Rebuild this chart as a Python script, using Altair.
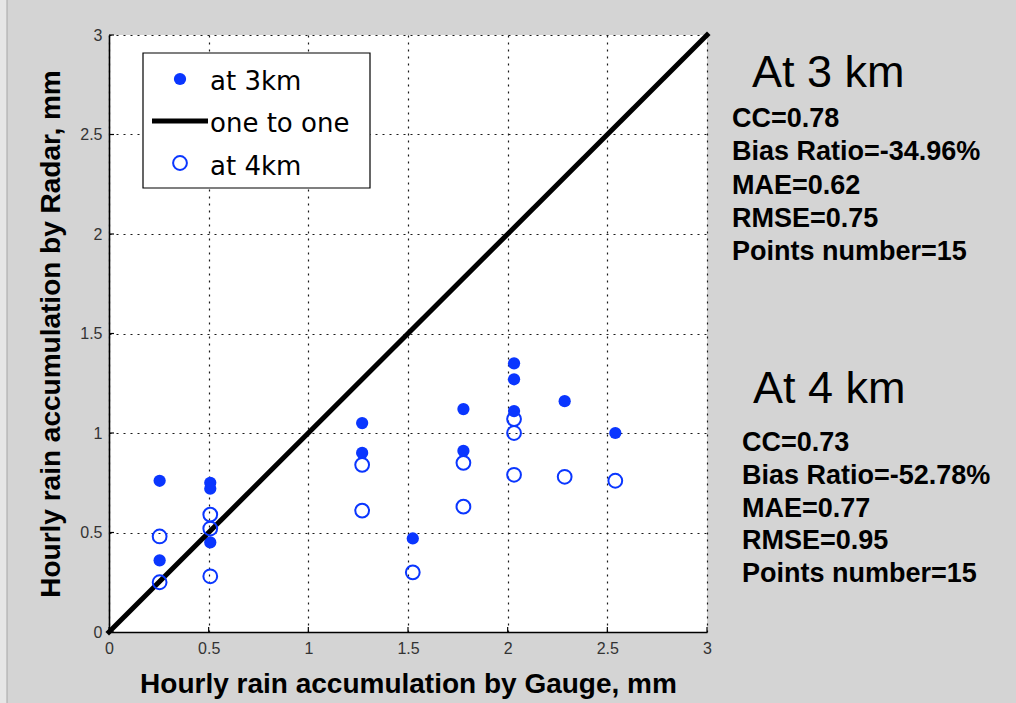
import altair as alt
import pandas as pd

# Gauge readings come in 0.01-inch steps (0.254 mm)
gauge_3km = [0.254, 0.254, 0.508, 0.508, 0.508, 1.27, 1.27, 1.524,
             1.778, 1.778, 2.032, 2.032, 2.032, 2.286, 2.54]
radar_3km = [0.76, 0.36, 0.75, 0.72, 0.45, 1.05, 0.90, 0.47,
             1.12, 0.91, 1.35, 1.27, 1.11, 1.16, 1.00]

gauge_4km = [0.254, 0.254, 0.508, 0.508, 0.508, 1.27, 1.27, 1.524,
             1.778, 1.778, 2.032, 2.032, 2.032, 2.286, 2.54]
radar_4km = [0.48, 0.25, 0.59, 0.52, 0.28, 0.84, 0.61, 0.30,
             0.85, 0.63, 1.07, 1.00, 0.79, 0.78, 0.76]

one_to_one = [0, 3]
tick_values = [0, 0.5, 1, 1.5, 2, 2.5, 3]

legend_labels = ["at 3km", "one to one", "at 4km"]

stats_3km_title = "At 3 km"
stats_3km = ["CC=0.78", "Bias Ratio=-34.96%", "MAE=0.62", "RMSE=0.75", "Points number=15"]
stats_4km_title = "At 4 km"
stats_4km = ["CC=0.73", "Bias Ratio=-52.78%", "MAE=0.77", "RMSE=0.95", "Points number=15"]

W, H = 598, 597
BLUE = "#0a36ff"
FONT = "Liberation Sans"
FILLED_SIZE = 150
HOLLOW_SIZE = 190
LINE_W = 5

df3 = pd.DataFrame({"gauge": gauge_3km, "radar": radar_3km})
df4 = pd.DataFrame({"gauge": gauge_4km, "radar": radar_4km})
dline = pd.DataFrame({"gauge": one_to_one, "radar": one_to_one})
dticks = pd.DataFrame({"v": tick_values})
one_row = pd.DataFrame({"k": [0]})

xs = alt.Scale(domain=[0, 3], nice=False, zero=False)
ys = alt.Scale(domain=[0, 3], nice=False, zero=False)

common_axis = dict(
    values=tick_values, format="~g", grid=True,
    gridDash=[2, 5], gridColor="#1a1a1a", gridWidth=1.2,
    domainColor="black", domainWidth=1.6,
    ticks=False, tickSize=0,
    labelFont=FONT, labelFontSize=16, labelColor="#333333",
    labelFlush=False, labelOverlap=False,
    titleFont=FONT, titleFontSize=28, titleFontWeight="bold", titleColor="black",
    titleBaseline="alphabetic",
)

x_axis = alt.Axis(title="Hourly rain accumulation by Gauge, mm",
                  labelPadding=8, titleX=W / 2, titleY=60, titleAlign="center",
                  **common_axis)
y_axis = alt.Axis(title="Hourly rain accumulation by Radar, mm",
                  labelPadding=7, titleAngle=270, titleX=-50, titleY=H / 2,
                  titleAlign="center", **common_axis)

# figure frame on the left edge
frame_strip = alt.Chart(one_row).mark_rect(fill="#e6e6e6", clip=False).encode(
    x=alt.value(-109), x2=alt.value(-102), y=alt.value(-35), y2=alt.value(H + 71)
)
frame_line = alt.Chart(one_row).mark_rule(color="#a6a6a6", strokeWidth=1, clip=False).encode(
    x=alt.value(-102), y=alt.value(-35), y2=alt.value(H + 71)
)

filled = alt.Chart(df3).mark_point(
    filled=True, shape="circle", size=FILLED_SIZE, color=BLUE, opacity=1
).encode(
    x=alt.X("gauge:Q", scale=xs, axis=x_axis),
    y=alt.Y("radar:Q", scale=ys, axis=y_axis),
)

line = alt.Chart(dline).mark_line(color="black", strokeWidth=LINE_W, strokeCap="square").encode(
    x=alt.X("gauge:Q", scale=xs),
    y=alt.Y("radar:Q", scale=ys),
)

hollow = alt.Chart(df4).mark_point(
    filled=False, shape="circle", size=HOLLOW_SIZE, color=BLUE, strokeWidth=2, opacity=1
).encode(
    x=alt.X("gauge:Q", scale=xs),
    y=alt.Y("radar:Q", scale=ys),
)

# inward tick marks on the bottom and left axes
x_ticks = alt.Chart(dticks).mark_rule(color="black", strokeWidth=1.2).encode(
    x=alt.X("v:Q", scale=xs), y=alt.value(H), y2=alt.value(H - 5)
)
y_ticks = alt.Chart(dticks).mark_rule(color="black", strokeWidth=1.2).encode(
    y=alt.Y("v:Q", scale=ys), x=alt.value(0), x2=alt.value(5)
)

# legend box
leg_box = alt.Chart(one_row).mark_rect(fill="white", stroke="black", strokeWidth=1.2).encode(
    x=alt.value(34), x2=alt.value(261), y=alt.value(18), y2=alt.value(153)
)
leg_filled = alt.Chart(one_row).mark_point(
    filled=True, shape="circle", size=FILLED_SIZE, color=BLUE, opacity=1
).encode(x=alt.value(71), y=alt.value(44))
leg_line = alt.Chart(one_row).mark_rule(color="black", strokeWidth=LINE_W).encode(
    x=alt.value(43), x2=alt.value(99), y=alt.value(86)
)
leg_hollow = alt.Chart(one_row).mark_point(
    filled=False, shape="circle", size=HOLLOW_SIZE, color=BLUE, strokeWidth=2, opacity=1
).encode(x=alt.value(71), y=alt.value(128))


def text_at(txt, px, py, size, weight="normal", font=FONT):
    return alt.Chart(one_row).mark_text(
        align="left", baseline="alphabetic", font=font, fontSize=size,
        fontWeight=weight, color="black"
    ).encode(x=alt.value(px), y=alt.value(py), text=alt.value(txt))


leg_texts = [
    text_at(t, 101, py, 26, font="DejaVu Sans")
    for t, py in zip(legend_labels, [55, 97, 140])
]

stat_layers = [text_at(stats_3km_title, 643, 52, 45)]
stat_layers += [text_at(t, 623, 92 + i * 33.3, 27, "bold") for i, t in enumerate(stats_3km)]
stat_layers += [text_at(stats_4km_title, 644, 368, 45)]
stat_layers += [text_at(t, 633, 416 + i * 32.8, 27, "bold") for i, t in enumerate(stats_4km)]

chart = alt.layer(
    frame_strip, frame_line,
    filled, line, hollow, x_ticks, y_ticks,
    leg_box, leg_filled, leg_line, leg_hollow, *leg_texts, *stat_layers
).properties(
    width=W, height=H,
    autosize=alt.AutoSizeParams(type="none"),
    padding={"left": 109, "top": 35, "right": 1016 - 109 - W, "bottom": 703 - 35 - H},
    background="#d4d4d4",
).configure_view(stroke=None, fill="white")

chart.save("out.html", embed_options={"renderer": "svg", "actions": False})
